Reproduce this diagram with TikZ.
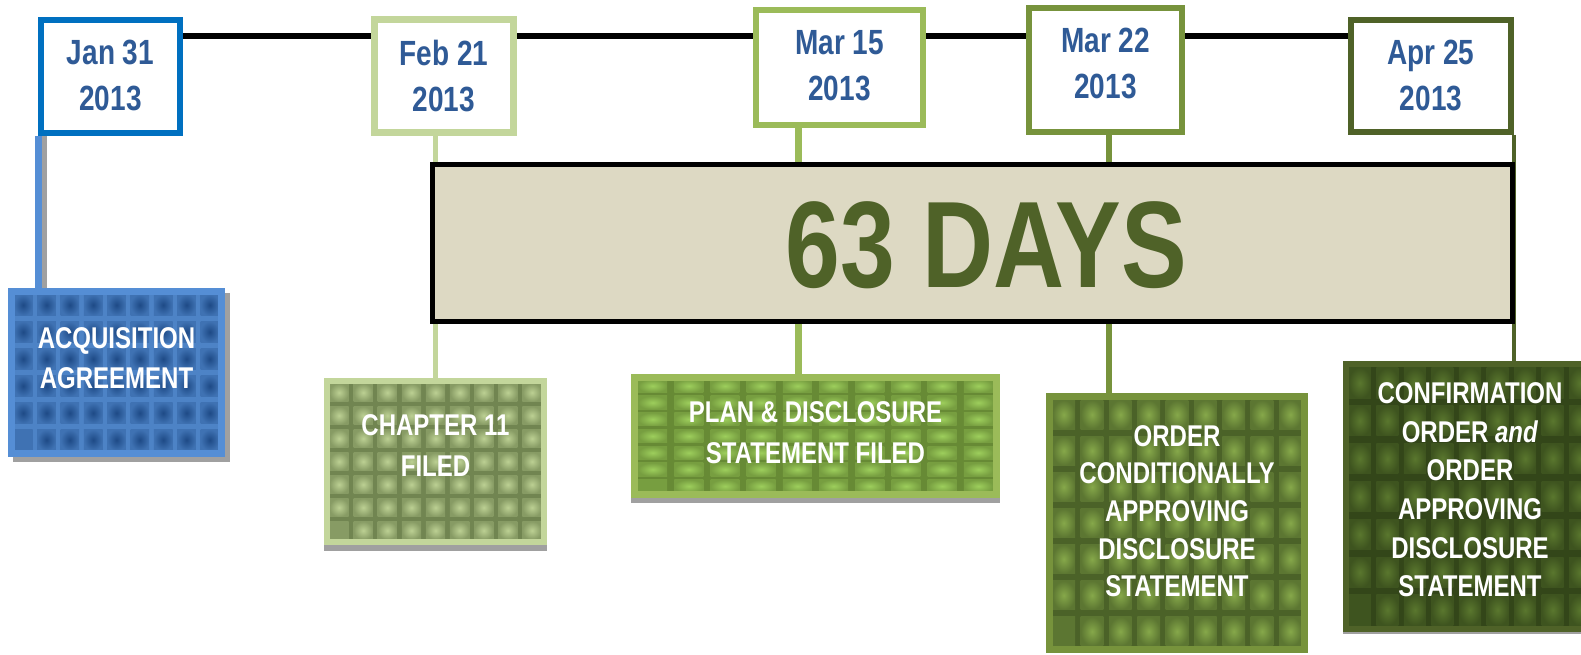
\documentclass[tikz,border=0pt]{standalone}
\usepackage{fontspec}
\setmainfont{Liberation Sans}[FakeStretch=0.8]
\usetikzlibrary{calc,shadows}
\pgfdeclarelayer{bg}
\pgfsetlayers{bg,main}

\definecolor{janblue}{HTML}{0070C0}
\definecolor{acqblue}{HTML}{558ED5}
\definecolor{febgreen}{HTML}{C3D69B}
\definecolor{margreen}{HTML}{9BBB59}
\definecolor{ordgreen}{HTML}{77933C}
\definecolor{aprgreen}{HTML}{4F6228}
\definecolor{datetxt}{HTML}{2F5A96}
\definecolor{daysfill}{HTML}{DDD9C3}
\definecolor{daystxt}{HTML}{4F6228}
\definecolor{shadowgray}{HTML}{A0A0A0}
% cell texture colours (centre / edge)
\definecolor{acqIn}{HTML}{1E4A86}
\definecolor{acqOut}{HTML}{5A93D8}
\definecolor{chapIn}{HTML}{BCD093}
\definecolor{chapOut}{HTML}{5C703E}
\definecolor{planIn}{HTML}{9DCE5C}
\definecolor{planOut}{HTML}{58772A}
\definecolor{ordIn}{HTML}{86A84A}
\definecolor{ordOut}{HTML}{3A4E1E}
\definecolor{confIn}{HTML}{5A772E}
\definecolor{confOut}{HTML}{283813}

\newcommand{\dtext}[2]{\raisebox{#2pt}[\height][\depth]{\fontsize{35}{46}\selectfont\bfseries\begin{tabular}{@{}c@{}}#1\\2013\end{tabular}}}
\newcommand{\ltext}[3]{\raisebox{#3pt}[\height][\depth]{\fontsize{30}{#2}\selectfont\bfseries\color{white}\begin{tabular}{@{}c@{}}#1\end{tabular}}}

\tikzset{
  datebox/.style={draw=#1, fill=white, line width=6pt, inner sep=0pt, text=datetxt},
  labelbox/.style={draw=#1, line width=7pt, inner sep=0pt},
  boxshadow/.style n args={3}{general shadow={fill=shadowgray, draw=shadowgray, line width=#1, shadow xshift=#2, shadow yshift=#3}},
  cells/.style n args={4}{fill=#3!22!#4, path picture={%
      \pgfpointdiff{\pgfpointanchor{path picture bounding box}{south west}}{\pgfpointanchor{path picture bounding box}{north east}}%
      \pgfgetlastxy{\cellW}{\cellH}%
      \pgfmathsetmacro{\cw}{\cellW/#1}%
      \pgfmathsetmacro{\chh}{\cellH/#2}%
      \pgfmathsetmacro{\iw}{0.8*\cw}%
      \pgfmathsetmacro{\ih}{0.8*\chh}%
      \foreach \i in {1,...,#1}{\foreach \j in {1,...,#2}{%
        \pgfmathsetmacro{\xx}{(\i-1)*\cw+0.1*\cw}%
        \pgfmathsetmacro{\yy}{(\j-1)*\chh+0.1*\chh}%
        \shade[inner color=#3, outer color=#3!45!#4] ($(path picture bounding box.south west)+(\xx pt,\yy pt)$) rectangle ++(\iw pt,\ih pt);
      }}%
  }},
  conn/.style={line width=#1},
}

\begin{document}
\begin{tikzpicture}[x=1pt,y=-1pt]
\useasboundingbox (0,0) rectangle (1581,655);

% date boxes
\node[datebox=janblue, minimum width=139pt, minimum height=113pt] (jan) at (110.5,76.5) {\dtext{Jan 31}{-2}};
\node[datebox=febgreen, line width=7pt, minimum width=139pt, minimum height=113pt] (feb) at (444,76) {\dtext{Feb 21}{-3}};
\node[datebox=margreen, minimum width=167pt, minimum height=115pt] (mar15) at (839.5,67.5) {\dtext{Mar 15}{-1}};
\node[datebox=ordgreen, minimum width=153pt, minimum height=124pt] (mar22) at (1105.5,70) {\dtext{Mar 22}{4}};
\node[datebox=aprgreen, minimum width=160pt, minimum height=112pt] (apr) at (1431,76) {\dtext{Apr 25}{-2}};

% 63 days
\node[draw=black, fill=daysfill, line width=5pt, inner sep=0pt, minimum width=1080pt, minimum height=157pt, text=daystxt,
      font=\fontsize{123}{130}\selectfont\bfseries] (days) at (972.5,243) {\raisebox{-2pt}[\height][\depth]{\hspace*{28pt}63 DAYS}};

% event boxes
\node[labelbox=acqblue, boxshadow={7pt}{5pt}{-5pt}, cells={9}{6}{acqIn}{acqOut}, minimum width=210pt, minimum height=162pt] (acq) at (116.5,372.5)
  {\ltext{ACQUISITION\\AGREEMENT}{40}{12}};
\node[labelbox=febgreen, line width=6pt, boxshadow={6pt}{0pt}{-6pt}, cells={9}{7}{chapIn}{chapOut}, minimum width=217pt, minimum height=161pt] (chap) at (435.5,461.5)
  {\ltext{CHAPTER 11\\FILED}{41}{13.5}};
\node[labelbox=margreen, boxshadow={7pt}{0pt}{-5pt}, cells={10}{7}{planIn}{planOut}, minimum width=362pt, minimum height=117pt] (plan) at (815.5,436)
  {\ltext{PLAN \& DISCLOSURE\\STATEMENT FILED}{41}{1}};
\node[labelbox=ordgreen, cells={9}{7}{ordIn}{ordOut}, minimum width=255pt, minimum height=253pt] (order) at (1177,523)
  {\ltext{ORDER\\CONDITIONALLY\\APPROVING\\DISCLOSURE\\STATEMENT}{37.6}{9}};
\node[labelbox=aprgreen, line width=6pt, boxshadow={6pt}{0pt}{-2pt}, cells={9}{7}{confIn}{confOut}, minimum width=248pt, minimum height=265pt] (conf) at (1470,496.5)
  {\ltext{CONFIRMATION\\ORDER \textit{and}\\ORDER\\APPROVING\\DISCLOSURE\\STATEMENT}{38.7}{4}};

% timeline and connectors behind
\coordinate (tl) at (0,36);
\coordinate (c3) at ($(plan.north)+(-17.5,0)$);
\coordinate (c4) at ($(mar22.south)+(3.5,0)$);
\begin{pgfonlayer}{bg}
  \draw[conn=6pt, black] (jan.east |- tl) -- (apr.west |- tl);
  \draw[conn=7pt, acqblue, preaction={draw=shadowgray, line width=5pt, transform canvas={xshift=6pt}}]
       (jan.south west) -- (jan.south west |- acq.north);
  \draw[conn=5pt, febgreen] (chap.north |- feb.south) -- (chap.north);
  \draw[conn=7pt, margreen] (c3 |- mar15.south) -- (c3);
  \draw[conn=6pt, ordgreen] (c4) -- (c4 |- order.north);
  \draw[conn=4.5pt, aprgreen] (apr.south east) -- (apr.south east |- conf.north);
\end{pgfonlayer}
\end{tikzpicture}
\end{document}
